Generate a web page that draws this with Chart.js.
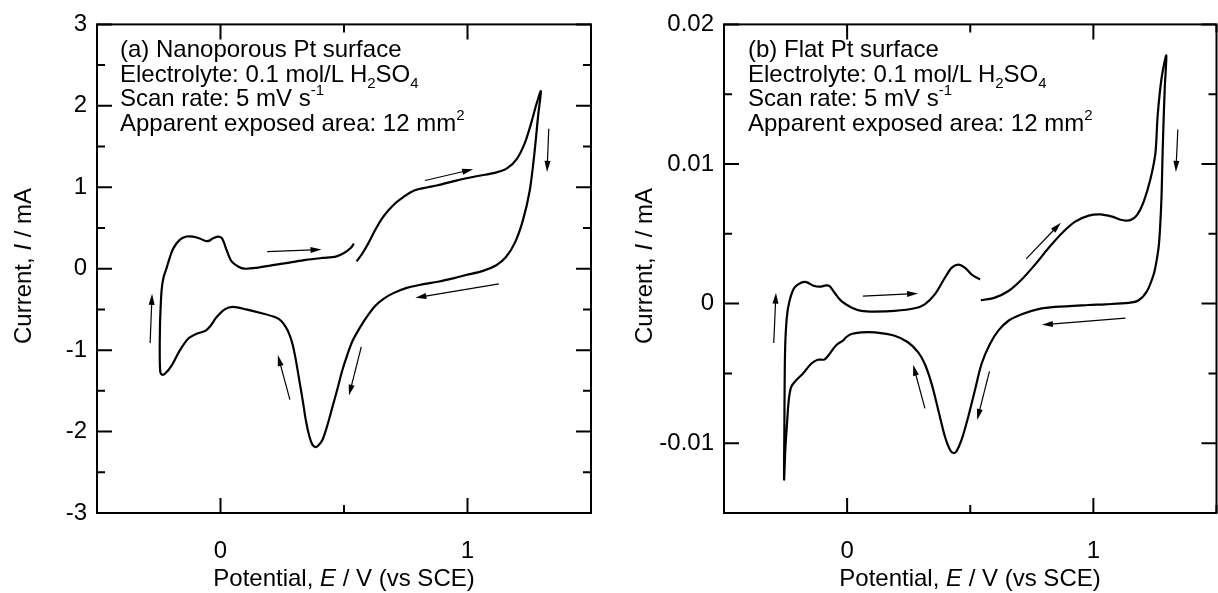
<!DOCTYPE html>
<html>
<head>
<meta charset="utf-8">
<script src="https://cdn.jsdelivr.net/npm/chart.js@4.4.1/dist/chart.umd.min.js"></script>
<style>
html, body { margin: 0; padding: 0; background: #fff; }
#wrap { position: relative; width: 1218px; height: 593px; overflow: hidden; font-family: "Liberation Sans", Arial, sans-serif; color: #000; }
.panel { position: absolute; top: 0; width: 609px; height: 593px; }
.panel canvas { position: absolute; left: 0; top: 0; }
.note { position: absolute; font-size: 24px; line-height: 24.5px; white-space: nowrap; }
.note sub, .note sup { font-size: 15px; line-height: 0; position: relative; vertical-align: baseline; }
.note sub { top: 6px; }
.note sup { top: -11px; }
.ytitle { position: absolute; font-size: 24px; white-space: nowrap; transform: translate(-50%, -50%) rotate(-90deg); }
.xtitle { position: absolute; font-size: 24px; white-space: nowrap; transform: translate(-50%, -50%); }
</style>
</head>
<body>
<div id="wrap">
  <div class="panel" style="left:0">
    <canvas id="cvA" width="609" height="593"></canvas>
    <div class="note" style="left:120px; top:37px">
      (a) Nanoporous Pt surface<br>
      Electrolyte: 0.1 mol/L H<sub>2</sub>SO<sub>4</sub><br>
      Scan rate: 5 mV s<sup>-1</sup><br>
      Apparent exposed area: 12 mm<sup>2</sup>
    </div>
    <div class="ytitle" style="left:23px; top:266px">Current, <i>I</i> / mA</div>
    <div class="xtitle" style="left:344px; top:578px">Potential, <i>E</i> / V (vs SCE)</div>
  </div>
  <div class="panel" style="left:609px">
    <canvas id="cvB" width="609" height="593"></canvas>
    <div class="note" style="left:139px; top:37px">
      (b) Flat Pt surface<br>
      Electrolyte: 0.1 mol/L H<sub>2</sub>SO<sub>4</sub><br>
      Scan rate: 5 mV s<sup>-1</sup><br>
      Apparent exposed area: 12 mm<sup>2</sup>
    </div>
    <div class="ytitle" style="left:35px; top:266px">Current, <i>I</i> / mA</div>
    <div class="xtitle" style="left:361px; top:578px">Potential, <i>E</i> / V (vs SCE)</div>
  </div>
</div>
<script>
// (a) nanoporous Pt, potential in V vs SCE, current in mA
const potentialA = [0.551, 0.575, 0.600, 0.629, 0.655, 0.681, 0.710, 0.740, 0.770, 0.800, 0.840, 0.880, 0.958, 1.036, 1.114, 1.161, 1.200, 1.231, 1.258, 1.279, 1.297,
  1.286, 1.271, 1.252, 1.224, 1.192, 1.155, 1.115, 1.060, 0.990, 0.950, 0.880, 0.816, 0.754, 0.700, 0.660, 0.625, 0.595, 0.565, 0.534, 0.513, 0.493, 0.473, 0.453, 0.433, 0.413, 0.396, 0.384, 0.372, 0.360, 0.346, 0.333, 0.319, 0.305, 0.292, 0.278, 0.265, 0.245, 0.225, 0.171, 0.104, 0.050, 0.017, -0.017, -0.040, -0.060, -0.097, -0.131, -0.164, -0.198, -0.225, -0.238,
  -0.244, -0.246, -0.245, -0.242, -0.238, -0.230, -0.218, -0.205, -0.191, -0.164, -0.137, -0.111, -0.084, -0.060, -0.045, -0.030, -0.010, 0.004, 0.014, 0.024, 0.044, 0.071, 0.097, 0.145, 0.211, 0.279, 0.346, 0.413, 0.467, 0.500, 0.527, 0.540];
const currentA = [0.09, 0.19, 0.32, 0.49, 0.62, 0.72, 0.81, 0.88, 0.94, 0.975, 1.00, 1.025, 1.085, 1.135, 1.18, 1.235, 1.35, 1.535, 1.79, 2.02, 2.18,
  1.88, 1.42, 0.96, 0.59, 0.32, 0.14, 0.04, -0.03, -0.08, -0.112, -0.16, -0.193, -0.235, -0.30, -0.37, -0.46, -0.58, -0.72, -0.89, -1.06, -1.25, -1.48, -1.70, -1.92, -2.10, -2.17, -2.19, -2.16, -2.06, -1.87, -1.62, -1.37, -1.12, -0.93, -0.80, -0.72, -0.64, -0.60, -0.55, -0.50, -0.47, -0.50, -0.60, -0.70, -0.76, -0.80, -0.86, -1.00, -1.19, -1.29, -1.30,
  -1.26, -1.05, -0.70, -0.45, -0.25, -0.10, 0.01, 0.14, 0.25, 0.357, 0.395, 0.393, 0.37, 0.34, 0.345, 0.375, 0.395, 0.38, 0.32, 0.235, 0.092, 0.027, 0.0, 0.01, 0.043, 0.075, 0.108, 0.132, 0.149, 0.193, 0.254, 0.308];

// (b) flat Pt
const potentialB = [0.543, 0.600, 0.655, 0.709, 0.763, 0.818, 0.872, 0.926, 0.981, 1.028, 1.076, 1.116, 1.150, 1.177, 1.204, 1.232, 1.252, 1.261, 1.277, 1.296,
  1.290, 1.284, 1.280, 1.277, 1.272, 1.266, 1.256, 1.245, 1.218, 1.184, 1.143, 1.048, 0.980, 0.845, 0.777, 0.709, 0.655, 0.614, 0.580, 0.546, 0.519, 0.492, 0.465, 0.444, 0.431, 0.417, 0.397, 0.370, 0.343, 0.315, 0.288, 0.247, 0.193, 0.112, 0.058, 0.017, -0.004, -0.017, -0.038, -0.051, -0.071, -0.092, -0.119, -0.146, -0.180, -0.207, -0.227, -0.237, -0.244, -0.251, -0.256,
  -0.255, -0.252, -0.245, -0.234, -0.214, -0.187, -0.166, -0.139, -0.112, -0.085, -0.071, -0.051, -0.024, 0.017, 0.058, 0.112, 0.193, 0.275, 0.315, 0.356, 0.397, 0.424, 0.451, 0.479, 0.506, 0.540];
const currentB = [0.00024, 0.00043, 0.0009, 0.00173, 0.00279, 0.00398, 0.00504, 0.00587, 0.0063, 0.00639, 0.00623, 0.00599, 0.00598, 0.00634, 0.00729, 0.00895, 0.0108, 0.01347, 0.01616, 0.01778,
  0.0155, 0.0125, 0.0100, 0.0078, 0.0058, 0.0042, 0.0030, 0.0021, 0.0009, 0.00024, 0.00005, -0.00005, -0.0001, -0.00024, -0.0004, -0.00076, -0.00123, -0.00194, -0.00289, -0.00431, -0.0062, -0.0081, -0.00975, -0.01058, -0.0107, -0.01046, -0.00952, -0.00762, -0.00573, -0.00431, -0.00348, -0.00277, -0.0023, -0.00206, -0.00206, -0.00218, -0.00241, -0.00265, -0.00289, -0.00312, -0.0036, -0.004, -0.00402, -0.00431, -0.00502, -0.00549, -0.00597, -0.00691, -0.00857, -0.01046, -0.0126,
  -0.0093, -0.0034, -0.0010, 0.00019, 0.00114, 0.00149, 0.00154, 0.0013, 0.00121, 0.0013, 0.00125, 0.00078, 0.00019, -0.00028, -0.00052, -0.00057, -0.00052, -0.00033, -0.00005, 0.00066, 0.00185, 0.00256, 0.00279, 0.00256, 0.00208, 0.00173];

// scan direction arrows [E start, I start, E end, I end]
const arrowsA = [[-0.285, -0.914, -0.277, -0.308], [0.189, 0.21, 0.409, 0.235], [0.828, 1.083, 1.023, 1.221], [1.329, 1.719, 1.322, 1.189],
  [1.127, -0.186, 0.789, -0.357], [0.570, -0.959, 0.520, -1.558], [0.281, -1.607, 0.232, -1.061]];
const arrowsB = [[-0.298, -0.00282, -0.289, 0.00078], [0.064, 0.00054, 0.288, 0.00073], [0.727, 0.0032, 0.868, 0.0058], [1.343, 0.01247, 1.335, 0.00943],
  [1.130, -0.00104, 0.791, -0.00152], [0.578, -0.00485, 0.528, -0.00833], [0.316, -0.0075, 0.268, -0.00438]];

const xRange = [-0.5, 1.5];
const yRangeA = [-3, 3];
const yRangeB = [-0.015, 0.02];

Chart.defaults.font.family = '"Liberation Sans", Arial, sans-serif';
Chart.defaults.color = '#000';

function isMultiple(v, step) {
  return Math.abs(v / step - Math.round(v / step)) < 1e-6;
}

function drawArrow(ctx, x1, y1, x2, y2) {
  const ang = Math.atan2(y2 - y1, x2 - x1);
  const len = 11, half = 3;
  ctx.beginPath();
  ctx.moveTo(x1, y1);
  ctx.lineTo(x2 - Math.cos(ang) * len * 0.8, y2 - Math.sin(ang) * len * 0.8);
  ctx.stroke();
  ctx.beginPath();
  ctx.moveTo(x2, y2);
  ctx.lineTo(x2 - len * Math.cos(ang) + half * Math.sin(ang), y2 - len * Math.sin(ang) - half * Math.cos(ang));
  ctx.lineTo(x2 - len * Math.cos(ang) - half * Math.sin(ang), y2 - len * Math.sin(ang) + half * Math.cos(ang));
  ctx.closePath();
  ctx.fill();
}

// frame with inward ticks on all four sides, plus the arrows
const framePlugin = {
  id: 'frame',
  afterDatasetsDraw(chart) {
    const ctx = chart.ctx, a = chart.chartArea;
    const xs = chart.scales.x, ys = chart.scales.y;
    const o = chart.options.plugins.frame;
    ctx.save();
    ctx.strokeStyle = '#000';
    ctx.fillStyle = '#000';
    ctx.lineWidth = 1.2;
    o.arrows.forEach(r => {
      drawArrow(ctx, xs.getPixelForValue(r[0]), ys.getPixelForValue(r[1]), xs.getPixelForValue(r[2]), ys.getPixelForValue(r[3]));
    });
    ctx.lineWidth = 2;
    ctx.strokeRect(a.left, a.top, a.right - a.left, a.bottom - a.top);
    ctx.beginPath();
    xs.ticks.forEach(t => {
      const px = xs.getPixelForValue(t.value);
      const L = isMultiple(t.value, o.xMajor) ? 15 : 8;
      ctx.moveTo(px, a.bottom); ctx.lineTo(px, a.bottom - L);
      ctx.moveTo(px, a.top); ctx.lineTo(px, a.top + L);
    });
    ys.ticks.forEach(t => {
      const py = ys.getPixelForValue(t.value);
      const L = isMultiple(t.value, o.yMajor) ? 15 : 8;
      ctx.moveTo(a.left, py); ctx.lineTo(a.left + L, py);
      ctx.moveTo(a.right, py); ctx.lineTo(a.right - L, py);
    });
    ctx.stroke();
    ctx.restore();
  }
};

function makeChart(id, potential, current, arrows, yRange, yStep, yMajor, yFmt, yWidth, rightPad) {
  const points = potential.map((e, i) => ({ x: e, y: current[i] }));
  return new Chart(document.getElementById(id), {
    type: 'scatter',
    data: {
      datasets: [{
        data: points,
        showLine: true,
        borderColor: '#000',
        borderWidth: 2.2,
        pointRadius: 0,
        tension: 0.3,
        fill: false
      }]
    },
    options: {
      responsive: false,
      animation: false,
      devicePixelRatio: 1,
      layout: { padding: { top: 22, right: rightPad, left: 0, bottom: 0 } },
      plugins: {
        legend: { display: false },
        tooltip: { enabled: false },
        frame: { arrows: arrows, xMajor: 1, yMajor: yMajor }
      },
      scales: {
        x: {
          type: 'linear',
          min: xRange[0],
          max: xRange[1],
          grid: { display: false, drawTicks: false },
          border: { display: false },
          ticks: {
            stepSize: 0.5,
            autoSkip: false,
            maxRotation: 0,
            padding: 24,
            font: { size: 24 },
            callback: v => isMultiple(v, 1) ? String(Math.round(v)) : ''
          },
          afterFit: s => { s.height = 80; s.paddingLeft = 0; s.paddingRight = 0; }
        },
        y: {
          type: 'linear',
          min: yRange[0],
          max: yRange[1],
          grid: { display: false, drawTicks: false },
          border: { display: false },
          ticks: {
            stepSize: yStep,
            autoSkip: false,
            padding: 10,
            font: { size: 24 },
            callback: v => isMultiple(v, yMajor) ? yFmt(v) : ''
          },
          afterFit: s => { s.width = yWidth; }
        }
      }
    },
    plugins: [framePlugin]
  });
}

makeChart('cvA', potentialA, currentA, arrowsA, yRangeA, 0.5, 1,
  v => String(Math.round(v)), 97, 18);
makeChart('cvB', potentialB, currentB, arrowsB, yRangeB, 0.005, 0.01,
  v => Math.abs(v) < 1e-12 ? '0' : v.toFixed(2), 115, 1.5);
</script>
</body>
</html>
